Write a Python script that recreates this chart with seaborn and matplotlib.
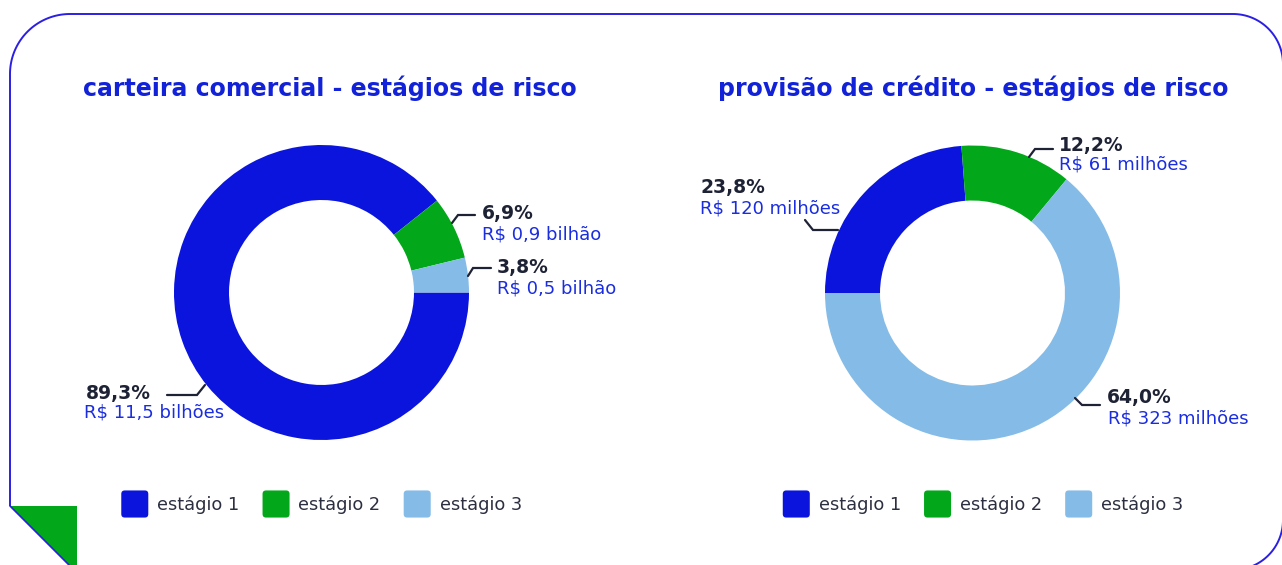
import numpy as np
import matplotlib
matplotlib.use("Agg")
import matplotlib.pyplot as plt
import seaborn as sns
from matplotlib.patches import Polygon, FancyBboxPatch, Patch
from matplotlib.legend_handler import HandlerPatch

# ---------------- data ----------------
stages = ["estágio 1", "estágio 2", "estágio 3"]
carteira_title = "carteira comercial - estágios de risco"
carteira_pct = [89.3, 6.9, 3.8]
carteira_val = ["R$ 11,5 bilhões", "R$ 0,9 bilhão", "R$ 0,5 bilhão"]
provisao_title = "provisão de crédito - estágios de risco"
provisao_pct = [23.8, 12.2, 64.0]
provisao_val = ["R$ 120 milhões", "R$ 61 milhões", "R$ 323 milhões"]

# ---------------- style ----------------
W, H = 1282, 565
sns.set_theme(style="white")
plt.rcParams["font.family"] = ["DejaVu Sans"]
palette = sns.color_palette(["#0a14dc", "#02a81a", "#85bbe7"])
TITLE_C = "#1222d8"
PCT_C = "#1e2235"
VAL_C = "#1a2ddf"
LEG_C = "#2c2f40"
FRAME_C = "#2b1fe3"

fig = plt.figure(figsize=(W / 100, H / 100), dpi=100)
fig.patch.set_facecolor("white")

ov = fig.add_axes([0, 0, 1, 1], zorder=5)
ov.set_xlim(0, W)
ov.set_ylim(H, 0)
ov.axis("off")
ov.patch.set_alpha(0)


def arc(cx, cy, r, a0, a1, n=40):
    a = np.radians(np.linspace(a0, a1, n))
    return np.column_stack([cx + r * np.cos(a), cy - r * np.sin(a)])


# frame
pts = np.vstack([
    [[10, 506], [10, 74]],
    arc(70, 74, 60, 180, 90),
    [[1233, 14]],
    arc(1233, 64, 50, 90, 0),
    [[1283, 520]],
    arc(1233, 520, 50, 0, -90),
    [[74, 570]],
])
ov.plot(pts[:, 0], pts[:, 1], color=FRAME_C, lw=1.4, solid_capstyle="butt")
ov.add_patch(Polygon([[10, 506], [77, 506], [77, 573]], closed=True,
                     facecolor="#02a81a", edgecolor="none"))
ov.plot([10, 74], [506, 570], color=FRAME_C, lw=1.2)


def donut(cx, cy, R, values, start, box=320):
    ax = fig.add_axes([(cx - box / 2) / W, (H - cy - box / 2) / H, box / W, box / H], zorder=2)
    ax.pie(values, colors=palette, startangle=start, counterclock=False, radius=1,
           wedgeprops=dict(width=0.373, linewidth=0))
    lim = box / 2 / R
    ax.set_xlim(-lim, lim)
    ax.set_ylim(-lim, lim)
    ax.set_aspect("equal")
    ax.axis("off")
    return ax


def fmt_pct(v):
    return f"{v:.1f}%".replace(".", ",")


def labels(pcts, vals, specs):
    for p, v, s in zip(pcts, vals, specs):
        x, yp, yv, xv, leader = s
        ov.text(x, yp, fmt_pct(p), fontsize=13.5, fontweight="bold", color=PCT_C,
                ha="left", va="center")
        ov.text(xv, yv, v, fontsize=13, color=VAL_C, ha="left", va="center")
        lp = np.array(leader)
        ov.plot(lp[:, 0], lp[:, 1], color=PCT_C, lw=1.6, solid_joinstyle="miter")


class RoundHandler(HandlerPatch):
    def create_artists(self, legend, orig_handle, xdescent, ydescent, width, height,
                       fontsize, trans):
        p = FancyBboxPatch((-xdescent, -ydescent), width, height,
                           boxstyle="round,pad=0,rounding_size=2.5",
                           facecolor=orig_handle.get_facecolor(), edgecolor="none",
                           transform=trans)
        return [p]


def legend(cx, cy):
    handles = [Patch(facecolor=c) for c in palette]
    fig.legend(handles, stages, loc="center", bbox_to_anchor=(cx / W, 1 - cy / H),
               bbox_transform=fig.transFigure, ncol=3, frameon=False,
               handler_map={Patch: RoundHandler()}, fontsize=12.8,
               handlelength=1.52, handleheight=1.97, handletextpad=0.5,
               columnspacing=1.3, labelcolor=LEG_C, borderpad=0, borderaxespad=0)


# ---------------- chart 1 ----------------
ov.text(330, 88, carteira_title, fontsize=17, fontweight="bold", color=TITLE_C,
        ha="center", va="center")
donut(321.5, 292.5, 147.5, carteira_pct, 0)
labels(carteira_pct, carteira_val, [
    (86, 394, 413, 84, [[167, 395], [197, 395], [205, 385]]),
    (482, 213, 234, 482, [[452, 223], [458, 215], [475, 215]]),
    (497, 268, 289, 497, [[468, 276], [473, 268], [491, 268]]),
])
legend(321.5, 504)

# ---------------- chart 2 ----------------
ov.text(973, 88, provisao_title, fontsize=17, fontweight="bold", color=TITLE_C,
        ha="center", va="center")
donut(972.5, 293, 147.5, provisao_pct, 180)
labels(provisao_pct, provisao_val, [
    (700, 188, 208, 700, [[805, 220], [813, 230], [838, 230]]),
    (1059, 145, 164, 1059, [[1029, 157], [1035, 149], [1053, 149]]),
    (1107, 398, 418, 1108, [[1075, 398], [1082, 405], [1100, 405]]),
])
legend(983, 504)

fig.savefig("out.png", dpi=100, facecolor="white")
